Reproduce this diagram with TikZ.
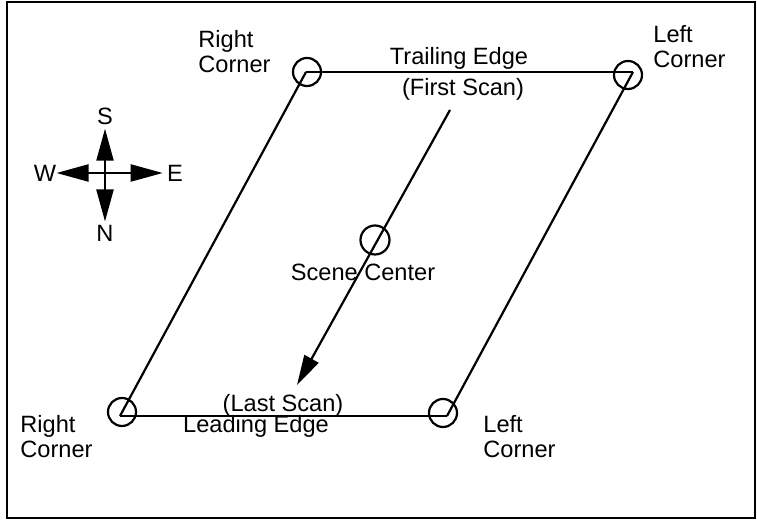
\documentclass[tikz,border=0pt]{standalone}
\usepackage{fontspec}
\setmainfont{Liberation Sans}
\usetikzlibrary{arrows.meta,positioning}

\begin{document}
\begin{tikzpicture}[x=0.5pt, y=-0.5pt,
    font=\fontsize{11.8}{12.7}\selectfont,
    ball/.style={draw, circle, line width=1.1pt, minimum size=14pt, inner sep=0pt},
    side/.style={line width=1.1pt},
    words/.style={align=left, inner sep=0pt, anchor=north west},
    caption/.style={inner sep=0pt, anchor=base},
    scan/.style={line width=1.1pt, -{Triangle[length=15pt, width=8pt]}},
    compass/.style={line width=1.1pt, -{Triangle[length=16pt, width=8.5pt]}}]

    \useasboundingbox (0,0) rectangle (757,522);
    \draw[line width=1.2pt] (7,2) rectangle (755,518);

    % scene corners
    \coordinate (TrailRight) at (306,72);
    \coordinate (TrailLeft)  at (633,72);
    \coordinate (LeadLeft)   at (447,416);
    \coordinate (LeadRight)  at (120,416);

    \node[ball] (TrailRightBall) at (307,72) {};
    \node[ball] (TrailLeftBall)  at (628,75) {};
    \node[ball] (LeadLeftBall)   at (443,413) {};
    \node[ball] (LeadRightBall)  at (122,412) {};
    \node[ball, minimum size=14.5pt] (CenterBall) at (375,240) {};

    \foreach \from/\to in {
        TrailRight/TrailLeft, TrailLeft/LeadLeft,
        LeadLeft/LeadRight, LeadRight/TrailRight}
    \draw [side] (\from)--(\to);

    % scan direction
    \coordinate (ScanStart) at (450,110);
    \coordinate (ScanEnd)   at (297,385);
    \draw [scan] (ScanStart)--(ScanEnd);

    \node[words] (TrailRightText) at (198,30)  {Right\\Corner};
    \node[words] (TrailLeftText)  at (653,25)  {Left\\Corner};
    \node[words] (LeadRightText)  at (20,415)  {Right\\Corner};
    \node[words] (LeadLeftText)   at (483,415) {Left\\Corner};

    \node[caption] (TrailText)  at (459,65)  {Trailing Edge};
    \node[caption] (FirstText)  at (463,96)  {(First Scan)};
    \node[caption] (LastText)   at (283,412) {(Last Scan)};
    \node[caption] (LeadText)   at (256,433) {Leading Edge};
    \node[caption] (CenterText) at (363,281) {Scene Center};

    % compass
    \coordinate (Compass) at (105,173);
    \node[inner sep=2pt]   (South) at (105,116) {S};
    \node[inner sep=1.5pt] (North) at (105,233) {N};
    \node[inner sep=0pt]   (West)  at (45,173)  {W};
    \node[inner sep=2pt]   (East)  at (175,173) {E};

    \foreach \to in {South, North, West, East}
    \draw [compass] (Compass)--(\to);

\end{tikzpicture}
\end{document}
